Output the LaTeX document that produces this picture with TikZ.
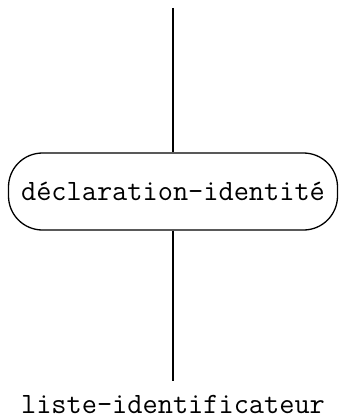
\documentclass[tikz,border=0pt]{standalone}
\usepackage{tikz}
\usetikzlibrary{positioning}
\tikzset{
  regle/.style={draw,line width=1.3pt,rounded corners=34pt,minimum width=329pt,minimum height=77pt,inner sep=0pt},
  terme/.style={font=\fontsize{29.5}{34}\selectfont\ttfamily},
  trait/.style={line width=1.2pt}
}
\begin{document}
\begin{tikzpicture}[x=1pt,y=1pt]
\useasboundingbox (0,0) rectangle (339,-420);
\node[regle,terme] (decl) at (173,-191.5) {déclaration-identité};
\coordinate (haut) at (decl.north |- 0,-8);
\node[terme,anchor=base,inner sep=0pt,outer sep=0pt] (liste) at (173,-413) {liste-identificateur};
\coordinate (bas) at ([yshift=14pt]liste.north);
\draw[trait] (haut) -- (decl.north);
\draw[trait] (decl.south) -- (bas);
\end{tikzpicture}
\end{document}
